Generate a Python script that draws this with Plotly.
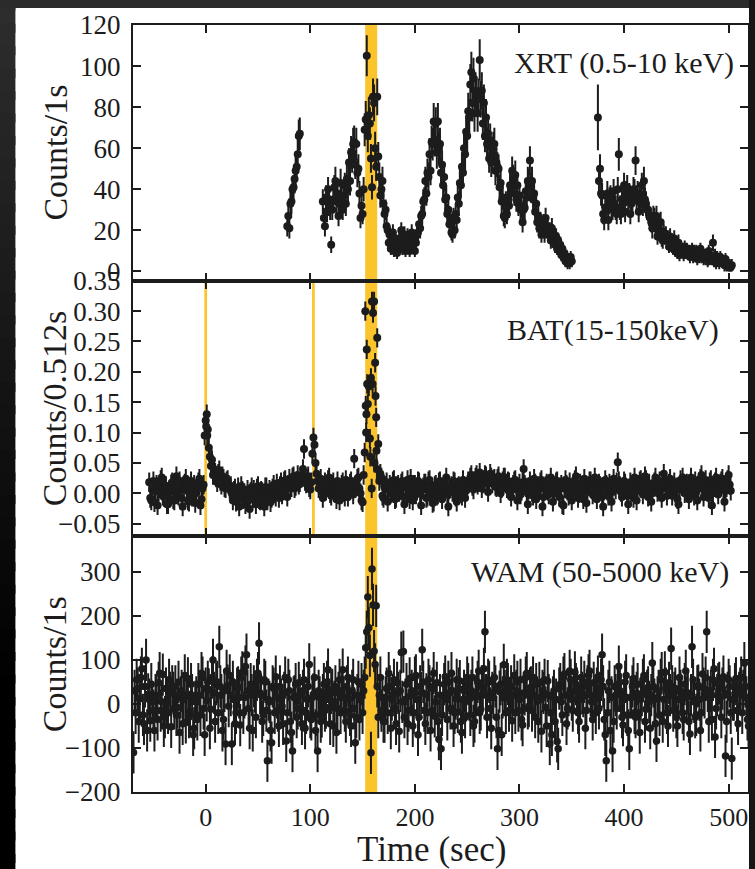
import numpy as np
import plotly.graph_objects as go
from plotly.subplots import make_subplots

# ---------------- XRT (0.5-10 keV), counts per 1 s, three observing segments
XRT_A_START = 78.0
XRT_A_RATE = [22, 27, 21, 33, 34, 40, 41, 45, 49, 51, 57, 66, 67]
XRT_A_ERR = [5, 5, 5, 6, 6, 6, 6, 7, 7, 7, 8, 8, 8]

XRT_B_START = 112.0
XRT_B_RATE = [
    34, 26, 22, 36, 29, 40, 33, 31, 13, 30, 35, 41, 44, 34, 38, 27, 33, 43, 36, 30,
    37, 42, 33, 45, 40, 53, 44, 58, 55, 62, 63, 52, 62, 48, 50, 38, 26, 32, 28, 40,
    69, 74, 105, 66, 76, 72, 55, 41, 85, 82, 60, 51, 85, 56, 46, 37, 40, 44, 33, 28,
    30, 22, 20, 14, 18, 11, 15, 19, 10, 16, 14, 9, 12, 16, 13, 20, 11, 14, 18, 10,
    14, 17, 12, 10, 15, 19, 13, 16, 10, 14, 18, 19, 23, 21, 27, 28, 34, 35, 44, 38,
    48, 46, 57, 49, 63, 62, 73, 64, 72, 58, 73, 60, 62, 48, 52, 42, 46, 35, 36, 28,
    30, 23, 26, 19, 18, 26, 20, 28, 25, 36, 33, 43, 42, 51, 48, 60, 57, 68, 66, 78,
    75, 91, 97, 82, 94, 77, 88, 86, 77, 85, 103, 84, 88, 72, 82, 66, 75, 62, 67, 55,
    64, 53, 57, 60, 62, 49, 53, 51, 50, 41, 43, 34, 36, 27, 26, 33, 28, 36, 32, 42,
    39, 49, 45, 38, 47, 35, 42, 33, 37, 30, 32, 24, 30, 31, 39, 36, 44, 43, 54, 42,
    44, 35, 38, 29, 33, 24, 27, 21, 24, 18, 20, 23, 18, 26, 21, 22, 18, 20, 15, 21,
    19, 18, 13, 17, 11, 15, 10, 13, 8, 11, 7, 9, 5, 6, 4, 6, 4, 7, 5,
]
XRT_B_ERR = [
    6, 5, 5, 6, 5, 6, 6, 6, 4, 5, 6, 6, 7, 6, 6, 5, 6, 7, 6, 5,
    6, 6, 6, 7, 6, 7, 7, 8, 7, 8, 8, 7, 8, 7, 7, 6, 5, 6, 5, 6,
    8, 9, 10, 8, 9, 8, 7, 6, 9, 9, 8, 7, 9, 7, 7, 6, 6, 7, 6, 5,
    5, 5, 4, 4, 4, 3, 4, 4, 3, 4, 4, 3, 3, 4, 4, 4, 3, 4, 4, 3,
    4, 4, 3, 3, 4, 4, 4, 4, 3, 4, 4, 4, 5, 5, 5, 5, 6, 6, 7, 6,
    7, 7, 8, 7, 8, 8, 9, 8, 8, 8, 9, 8, 8, 7, 7, 6, 7, 6, 6, 5,
    5, 5, 5, 4, 4, 5, 4, 5, 5, 6, 6, 7, 6, 7, 7, 8, 8, 8, 8, 9,
    9, 10, 10, 9, 10, 9, 9, 9, 9, 9, 10, 9, 9, 8, 9, 8, 9, 8, 8, 7,
    8, 7, 8, 8, 8, 7, 7, 7, 7, 6, 7, 6, 6, 5, 5, 6, 5, 6, 6, 6,
    6, 7, 7, 6, 7, 6, 6, 6, 6, 5, 6, 5, 5, 6, 6, 6, 7, 7, 7, 6,
    7, 6, 6, 5, 6, 5, 5, 5, 5, 4, 4, 5, 4, 5, 5, 5, 4, 4, 4, 5,
    4, 4, 4, 4, 3, 4, 3, 4, 3, 3, 3, 3, 3, 3, 3, 3, 3, 3, 3,
]

XRT_C_START = 375.0
XRT_C_RATE = [
    75, 44, 50, 38, 37, 28, 25, 31, 29, 38, 25, 35, 36, 32, 30, 39, 33, 31, 28, 40,
    57, 31, 28, 35, 33, 42, 29, 38, 41, 34, 37, 28, 33, 34, 40, 39, 54, 36, 38, 29,
    35, 34, 42, 33, 44, 35, 33, 30, 30, 27, 26, 24, 21, 27, 26, 21, 27, 17, 22, 20,
    24, 16, 15, 19, 17, 18, 15, 16, 12, 17, 14, 13, 11, 16, 10, 12, 9, 14, 8, 12,
    10, 11, 8, 12, 9, 11, 9, 10, 7, 9, 11, 7, 10, 8, 10, 6, 9, 7, 11, 7,
    9, 6, 8, 6, 8, 5, 10, 6, 7, 6, 14, 5, 8, 4, 7, 6, 4, 7, 6, 5,
    5, 3, 6, 3, 4, 2, 3, 2, 3,
]
XRT_C_ERR = [
    16, 7, 7, 6, 6, 5, 5, 6, 5, 6, 5, 6, 6, 6, 5, 6, 6, 6, 5, 6,
    8, 6, 5, 6, 6, 6, 5, 6, 6, 6, 6, 5, 6, 6, 6, 6, 7, 6, 6, 5,
    6, 6, 6, 6, 7, 6, 6, 5, 5, 5, 5, 5, 5, 5, 5, 5, 5, 4, 5, 4,
    5, 4, 4, 4, 4, 4, 4, 4, 3, 4, 4, 4, 3, 4, 3, 3, 3, 4, 3, 3,
    3, 3, 3, 3, 3, 3, 3, 3, 3, 3, 3, 3, 3, 3, 3, 3, 3, 3, 3, 3,
    3, 3, 3, 3, 3, 3, 3, 3, 3, 3, 4, 3, 3, 3, 3, 3, 3, 3, 3, 3,
    3, 3, 3, 3, 3, 2, 3, 2, 3,
]

# ---------------- BAT (15-150 keV), rate in units of 1e-3 counts per 0.512 s
BAT_START = -54.0
BAT_RATE_E3 = [
    18, -8, -12, 6, 20, -15, 4, 14, -20, 2, 8, 22, 26, -4, -6, 12, 12, -18, -18, 5,
    2, 15, 18, -10, -12, 8, 28, -2, -4, 20, 10, -8, -22, 6, 16, 24, 4, -12, -14, 10,
    20, -6, -2, 14, -16, 0, 12, 18, 24, -20, -10, 8, 14, 95, 120, 130, 105, 75, 60, 45,
    55, 30, 40, 34, 26, 18, 32, 38, 20, 14, 28, 24, 10, 8, 20, 22, 14, 6, 12, 0,
    -12, 4, 8, -14, -2, 10, -22, -6, 12, 4, -10, 0, -18, -4, 6, -12, -26, 2, 10, -8,
    6, -2, -18, 8, 12, -10, -12, 4, 2, -6, -22, 10, 10, -12, -2, 6, -15, -8, 8, 14,
    0, -6, 16, 4, -8, 12, 18, -2, 4, 20, 22, 6, -6, 14, 24, 10, 10, 26, 28, 8,
    12, 20, 30, 14, 18, 26, 26, 40, 73, 20, 16, 24, 28, 10, 6, 18, 65, 92, 80, 50,
    32, 20, 8, 14, 24, 2, -8, 10, 18, 4, 10, 22, 26, 0, -4, 14, 18, 2, 6, -10,
    20, 8, -12, 0, 14, 18, 2, -6, 22, 12, -6, 4, 16, 20, 10, -2, 57, 8, 12, 24,
    26, 8, 0, -12, -15, 30, 67, 144, 237, 147, 176, 90, 190, 316, 297, 316, 215, 125, 256, 81,
    20, 32, 26, -4, -8, 10, 12, 18, -14, 6, 14, 0, 2, 20, 22, -10, -8, 12, 14, 2,
    8, 16, 20, -6, -18, 10, 12, 22, 0, -10, 24, 4, -12, 14, 14, -2, 4, 20, 18, 0,
    -20, 6, 10, 16, 16, -8, -6, 20, 22, 2, 6, -16, -14, 12, 14, -4, -2, 18, 20, 4,
    -10, 8, 12, 16, 26, -2, -22, 6, 8, 12, 2, 20, 18, -6, -14, 10, 12, 0, 4, -4,
    22, 12, -8, 4, 10, 20, 18, 26, 30, 12, 6, 20, 26, 30, 14, 18, 34, 22, 8, 16,
    22, 30, 28, 16, 2, 20, 32, 26, 16, 22, 24, 12, 10, 24, 28, 14, 0, 8, 20, 26,
    26, 16, 8, 20, 18, 4, -6, 10, 14, 20, 22, 6, -12, 8, 16, -2, 4, 18, 40, 14,
    10, 2, -18, 6, 20, 12, 2, -4, 24, 16, -10, 0, 12, 6, 18, 22, -22, -6, 8, 12,
    16, 4, -2, 10, 26, 12, -14, 0, 12, 18, 20, 6, -6, 10, 14, -18, -20, 8, 22, 14,
    4, -4, 18, 8, -12, 2, 10, 22, 28, 12, -8, 0, 16, 10, 0, -10, 24, 14, -16, 6,
    12, 20, 20, 6, -2, 8, 26, 16, -10, 4, 16, 12, 10, -6, -22, 8, 22, 14, 4, -4,
    16, 8, -14, 2, 24, 14, 6, 18, 51, 20, 12, 2, -6, 10, 20, 16, 8, -4, -18, 6,
    18, 10, 2, -8, 26, 14, -12, 6, 14, 20, 22, 8, -2, 12, 28, 22, 6, -6, 16, 4,
    -14, 0, 12, 18, 26, 10, 2, 12, 20, 6, -8, 12, 32, 18, 12, -4, 6, 16, 24, 8,
    -4, 10, 18, 6, 10, -10, -18, 6, 22, 12, 26, 16, 0, 10, 16, 2, -10, 12, 26, 14,
    8, -4, 20, 12, -12, 8, 14, 24, 30, 10, -6, 4, 22, 10, 4, -8, 18, 22, -20, 0,
    12, 18, 26, 8, -2, 10, 16, 20, 24, 6, -14, 4, 10, 22, 30, 14, 4,
]
BAT_ERR_E3 = 16
# sub-second bins inside the precursor and the main burst
BAT_FINE_T = [0.5, 1.5, 152.6, 153.4, 153.7, 154.4, 157.4, 158.7, 159.6,
              161.4, 162.4, 163.3, 163.7]
BAT_FINE_E3 = [110, 95, 300, 100, 130, 180, 60, 8, 180, 50, 160, 70, 40]

# ---------------- WAM (50-5000 keV), counts per 1 s
WAM_START = -69.0
WAM_RATE = [
    -110, 30, -20, 55, 35, -40, 12, 60, 80, -25, -45, 40, 100, -60, 22, 10, -38, 45, 5, -15,
    -60, 20, 18, -35, 48, 70, -15, 5, 67, -50, -30, 35, 3, -20, 55, 25, -52, 40, 25, -10,
    40, -25, -8, 50, -65, 15, 30, -45, 10, 65, -42, 20, 58, -30, -18, 45, 20, -70, -55, 5,
    15, -35, 45, 20, -25, 70, 60, -10, -70, 35, 8, 50, 33, -55, -12, 60, 100, 25, -40, 45,
    50, -20, 130, 40, 20, -60, -35, 30, -91, 75, 42, -5, 65, 20, -91, 50, 10, -45, -20, 35,
    38, 15, -48, 60, 72, -20, 15, 85, 112, 30, -10, -55, 45, 20, -60, 40, 28, -30, 55, 70,
    138, 25, 20, -40, -25, 55, 50, -15, -129, 10, 5, -60, -88, 40, 35, -20, 62, 15, -15, -50,
    40, 10, -5, -45, 25, 60, -84, -20, 55, 30, -40, -65, -107, 15, 18, 45, -30, -10, 48, 20,
    -12, -45, 30, 55, -55, -20, 10, 40, 90, -30, -35, 15, 22, 60, -60, -25, -107, 30, 15, -40,
    -28, 20, 45, -15, -8, 50, 78, 10, -45, 25, 32, -50, 5, 40, -65, -10, 25, 55, -20, 30,
    78, 15, -15, -40, 40, 60, 12, -25, -50, 30, 55, -10, -88, -30, 20, 50, -35, 10, 45, -20,
    30, 60, 128, 164, 243, 173, 110, -111, 307, 225, 120, 90, 223, 40, -30, 20, 60, -15, 15, -40,
    -40, 15, 35, -20, 70, 40, -55, 10, 20, 55, -10, -45, 48, 25, -62, 30, 117, 5, 119, -30,
    10, 45, -45, -15, 58, 20, 30, -50, -20, 60, 65, 10, -70, -30, 40, 25, 123, 50, -15, -45,
    22, -20, 55, 40, -60, -15, 35, 70, -28, 5, 48, -40, -80, 20, -102, -25, 18, 45, 62, 10,
    -35, 50, 25, -10, 70, 30, -50, -20, 12, 55, -18, 35, 52, -40, -65, 10, 30, -30, 8, 60,
    45, 10, -25, 30, 60, -50, -40, 15, 20, 50, 75, -20, -12, 40, 35, 80, 164, 20, -30, 55,
    50, -10, -55, 25, 15, 60, 40, -30, -102, -60, 28, 45, -70, 15, 89, 30, -20, 55, 45, -15,
    12, 40, -38, 20, 65, -20, 30, 50, -15, 10, 55, -35, -48, 25, 22, 60, 70, -10, -5, 35,
    38, -15, 60, 20, -30, 45, 15, -40, 48, 10, -62, 30, 25, 55, -8, -50, 52, 20, -91, -20,
    -70, 15, 30, -40, 10, -85, -102, 35, 45, 5, -25, 60, 68, 20, -45, -10, 20, 75, 55, 10,
    -15, 30, 72, 45, 35, -20, -40, 10, 60, 25, 18, 50, -55, -15, 40, 65, 75, 20, 5, -35,
    48, 10, -20, 35, 62, -10, 25, 55, 112, 40, -35, -70, -129, -20, 30, 50, -60, 15, -107, -40,
    40, 20, -10, 45, 85, 30, 22, -30, -48, 10, 50, 65, -25, -60, -102, 15, 15, 40, 58, -20,
    -30, 25, 45, -20, -65, 10, 20, 55, 65, -40, -12, 30, 38, 5, -55, 20, 93, 40, 10, -45,
    -84, 15, 30, -25, 55, 70, -40, 10, 72, 35, -20, -50, 48, 20, 126, 40, -15, 25, 35, -30,
    -50, 10, 60, 30, 18, -20, -35, 45, 75, 15, 25, -40, -68, 20, 130, 55, 5, -30, -25, 40,
    42, 10, -60, -20, 68, 35, 15, 60, 164, 30, -40, 15, 30, -35, 55, 80, -75, -10, 20, 45,
    48, 15, -30, 35, 62, 20, -118, -40, 25, 55, 40, -20, -124, 10, 10, 45, 58, -15, -45, 25,
    35, 60, -20, 30, 93, 40, 15, -35, -50,
]
WAM_ERR = 48

BIN = 1.0  # seconds per light-curve bin

# ---------------- highlighted intervals (seconds)
MAIN_BAND = (152.5, 164.0)
BAT_LINES = [0.0, 103.0]

X_RANGE = [-69.5, 518.5]
X_TICKS = [0, 100, 200, 300, 400, 500]

INK = "#1c1c1c"
GOLD = "#fcc42c"
SERIF = "Liberation Serif"


def grid(start, values):
    return start + BIN * np.arange(len(values))


fig = make_subplots(rows=3, cols=1, shared_xaxes=True, vertical_spacing=0)


def add_points(t, v, err, row, constant=False, size=8):
    if constant:
        ey = dict(type="constant", value=err, thickness=2, width=0, color=INK)
    else:
        ey = dict(type="data", array=err, thickness=2, width=0, color=INK)
    fig.add_trace(go.Scatter(x=t, y=v, mode="markers",
                             marker=dict(color=INK, size=size),
                             error_y=ey, hoverinfo="skip"), row=row, col=1)


for start, rate, err in [
    (XRT_A_START, XRT_A_RATE, XRT_A_ERR),
    (XRT_B_START, XRT_B_RATE, XRT_B_ERR),
    (XRT_C_START, XRT_C_RATE, XRT_C_ERR),
]:
    add_points(grid(start, rate), rate, err, 1)

bat = np.array(BAT_RATE_E3) / 1000.0
bat_fine = np.array(BAT_FINE_E3) / 1000.0
add_points(grid(BAT_START, BAT_RATE_E3), bat, BAT_ERR_E3 / 1000.0, 2, constant=True)
add_points(BAT_FINE_T, bat_fine, BAT_ERR_E3 / 1000.0, 2, constant=True)

add_points(grid(WAM_START, WAM_RATE), WAM_RATE, WAM_ERR, 3, constant=True, size=7.5)

axis_common = dict(showline=True, linecolor=INK, linewidth=2, mirror="ticks",
                   ticks="inside", ticklen=8, tickwidth=1.5, tickcolor=INK,
                   showgrid=False, zeroline=False)
y_font = dict(family=SERIF, size=27, color=INK)

for r in (1, 2, 3):
    fig.update_xaxes(range=X_RANGE, tickvals=X_TICKS, ticklabelstandoff=1,
                     tickfont=dict(family=SERIF, size=26, color=INK),
                     **axis_common, row=r, col=1)

fig.update_yaxes(range=[-4.5, 120], tickvals=[0, 20, 40, 60, 80, 100, 120],
                 ticklabelstandoff=5, tickfont=y_font, **axis_common, row=1, col=1)
fig.update_yaxes(range=[-0.071, 0.3502],
                 tickvals=[-0.05, 0, 0.05, 0.10, 0.15, 0.20, 0.25, 0.30, 0.35],
                 tickformat=".2f", ticklabelstandoff=5, tickfont=y_font,
                 **axis_common, row=2, col=1)
fig.update_yaxes(range=[-200, 381], tickvals=[-200, -100, 0, 100, 200, 300],
                 ticklabelstandoff=5, tickfont=y_font, **axis_common, row=3, col=1)

shapes = [
    dict(type="rect", xref="x", yref="paper", x0=MAIN_BAND[0], x1=MAIN_BAND[1],
         y0=0, y1=1, fillcolor=GOLD, line_width=0, layer="below"),
]
for t0 in BAT_LINES:
    shapes.append(dict(type="rect", xref="x2", yref="y2 domain", x0=t0 - 1.3,
                       x1=t0 + 1.3, y0=0, y1=1, fillcolor=GOLD, line_width=0,
                       layer="below"))

# dark frame around the white page
n_strip = 40
span = 1.06 + 0.11
for k in range(n_strip):
    y_top = 1.06 - k * span / n_strip
    y_bot = 1.06 - (k + 1.4) * span / n_strip
    g = int(round(0x2e * max(0.0, 1 - 1.25 * k / (n_strip - 1))))
    shapes.append(dict(type="rect", xref="paper", yref="paper", x0=-0.3,
                       x1=-0.1912, y0=y_bot, y1=y_top,
                       fillcolor=f"rgb({g},{g},{g})", line_width=0,
                       layer="above"))
shapes.append(dict(type="rect", xref="paper", yref="paper", x0=-0.3, x1=1.1,
                   y0=1.0222, y1=1.06, fillcolor="#2b2b2b", line_width=0,
                   layer="above"))
shapes.append(dict(type="rect", xref="paper", yref="paper", x0=1.0016, x1=1.1,
                   y0=-0.2, y1=1.06, fillcolor="#161616", line_width=0,
                   layer="above"))

label_font = dict(family=SERIF, size=30, color=INK)
title_font = dict(family=SERIF, size=34, color=INK)
annotations = [
    dict(text="XRT (0.5-10 keV)", x=0.9806, y=0.9504, xanchor="right",
         yanchor="middle", font=label_font),
    dict(text="BAT(15-150keV)", x=0.9562, y=0.6023, xanchor="right",
         yanchor="middle", font=label_font),
    dict(text="WAM (50-5000 keV)", x=0.9724, y=0.2868, xanchor="right",
         yanchor="middle", font=label_font),
    dict(text="Counts/1s", x=-0.1264, y=0.834, textangle=-90,
         xanchor="center", yanchor="middle", font=title_font),
    dict(text="Counts/0.512s", x=-0.1264, y=0.5007, textangle=-90,
         xanchor="center", yanchor="middle", font=title_font),
    dict(text="Counts/1s", x=-0.1264, y=0.1669, textangle=-90,
         xanchor="center", yanchor="middle", font=title_font),
    dict(text="Time (sec)", x=0.4846, y=-0.0756, xanchor="center",
         yanchor="middle", font=dict(family=SERIF, size=35, color=INK)),
]
for a in annotations:
    a.update(xref="paper", yref="paper", showarrow=False)

fig.update_layout(
    width=755, height=869,
    margin=dict(l=133, r=5, t=25, b=77),
    paper_bgcolor="white", plot_bgcolor="white",
    showlegend=False,
    shapes=shapes, annotations=annotations,
    font=dict(family=SERIF, color=INK),
)

fig.write_html("out.html")
